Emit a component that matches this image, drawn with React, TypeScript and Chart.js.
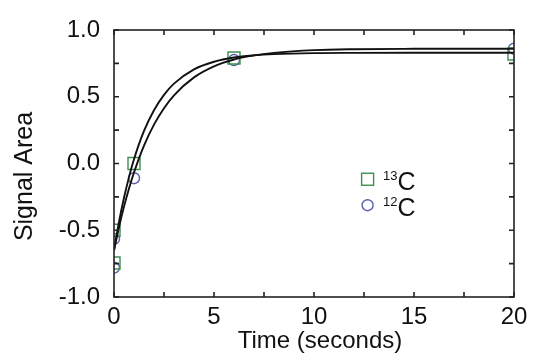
import React, { useEffect, useRef } from "react";
import { Chart, registerables } from "chart.js";

Chart.register(...registerables);

const c13X = [0, 0, 1, 6, 20];
const c13Y = [-0.5, -0.745, 0.0, 0.79, 0.82];
const c12X = [0, 0, 1, 6, 20];
const c12Y = [-0.565, -0.78, -0.11, 0.775, 0.86];

// Fitted curves
const fitX = [0, 0.25, 0.5, 0.75, 1, 1.5, 2, 2.5, 3, 4, 5, 6, 7, 8, 10, 12, 15, 20];
const fit13Y = [-0.65, -0.438, -0.257, -0.102, 0.032, 0.244, 0.399, 0.514, 0.598, 0.705, 0.762, 0.794, 0.81, 0.819, 0.827, 0.829, 0.83, 0.83];
const fit12Y = [-0.65, -0.477, -0.323, -0.187, -0.067, 0.134, 0.291, 0.414, 0.511, 0.645, 0.728, 0.779, 0.81, 0.829, 0.849, 0.856, 0.859, 0.86];

const xTicks = [0, 5, 10, 15, 20];
const xMinorTicks = [0, 2.5, 5, 7.5, 10, 12.5, 15, 17.5, 20];
const yTicks = [-1, -0.5, 0, 0.5, 1];
const yMinorTicks = [-1, -0.75, -0.5, -0.25, 0, 0.25, 0.5, 0.75, 1];

const xTitle = "Time (seconds)";
const yTitle = "Signal Area";

const GREEN = "#3f8f50";
const BLUE = "#5860a8";

const legendItems = [
  { sup: "13", main: "C", color: GREEN, style: "rect", x: 12.68, y: -0.118 },
  { sup: "12", main: "C", color: BLUE, style: "circle", x: 12.68, y: -0.3125 },
];

const FONT = "'Liberation Sans', Arial, Helvetica, sans-serif";

const framePlugin = {
  id: "frame",
  afterDatasetsDraw(chart: any) {
    const { ctx, chartArea, scales } = chart;
    const { left, right, top, bottom } = chartArea;
    const xs = scales.x;
    const ys = scales.y;
    ctx.save();
    ctx.strokeStyle = "#222";
    ctx.lineWidth = 1.6;
    ctx.strokeRect(left, top, right - left, bottom - top);
    const tl = 5;
    ctx.beginPath();
    xMinorTicks.forEach((v) => {
      const px = xs.getPixelForValue(v);
      ctx.moveTo(px, bottom);
      ctx.lineTo(px, bottom - tl);
      ctx.moveTo(px, top);
      ctx.lineTo(px, top + tl);
    });
    yMinorTicks.forEach((v) => {
      const py = ys.getPixelForValue(v);
      ctx.moveTo(left, py);
      ctx.lineTo(left + tl, py);
      ctx.moveTo(right, py);
      ctx.lineTo(right - tl, py);
    });
    ctx.stroke();

    // legend
    legendItems.forEach((it) => {
      const lx = xs.getPixelForValue(it.x);
      const ly = ys.getPixelForValue(it.y);
      ctx.strokeStyle = it.color;
      ctx.lineWidth = 1.4;
      if (it.style === "rect") {
        ctx.strokeRect(lx - 6, ly - 6, 12, 12);
      } else {
        ctx.beginPath();
        ctx.arc(lx, ly, 5.5, 0, Math.PI * 2);
        ctx.stroke();
      }
      ctx.fillStyle = "#111";
      ctx.textBaseline = "alphabetic";
      ctx.textAlign = "left";
      ctx.font = `13px ${FONT}`;
      ctx.fillText(it.sup, lx + 15.5, ly + 0.5);
      const w = ctx.measureText(it.sup).width;
      ctx.font = `25px ${FONT}`;
      ctx.fillText(it.main, lx + 15.5 + w, ly + 10.5);
    });

    ctx.fillStyle = "#111";
    ctx.font = `24px ${FONT}`;
    ctx.textAlign = "center";
    ctx.textBaseline = "alphabetic";
    // x-axis title
    ctx.fillText(xTitle, (left + right) / 2 + 6, 348);

    // y-axis title
    ctx.save();
    ctx.translate(32, (top + bottom) / 2 + 13);
    ctx.rotate(-Math.PI / 2);
    ctx.font = `25px ${FONT}`;
    ctx.fillText(yTitle, 0, 0);
    ctx.restore();

    ctx.restore();
  },
};

export default function App() {
  const ref = useRef<HTMLCanvasElement>(null);
  useEffect(() => {
    if (!ref.current) return;
    const chart = new Chart(ref.current, {
      type: "scatter",
      data: {
        datasets: [
          {
            data: fitX.map((x, i) => ({ x, y: fit13Y[i] })),
            showLine: true,
            borderColor: "#111",
            borderWidth: 1.9,
            pointRadius: 0,
            cubicInterpolationMode: "monotone",
            order: 1,
          },
          {
            data: fitX.map((x, i) => ({ x, y: fit12Y[i] })),
            showLine: true,
            borderColor: "#111",
            borderWidth: 1.9,
            pointRadius: 0,
            cubicInterpolationMode: "monotone",
            order: 1,
          },
          {
            data: c13X.map((x, i) => ({ x, y: c13Y[i] })),
            pointStyle: "rect",
            pointRadius: 8.5,
            borderColor: GREEN,
            backgroundColor: "rgba(0,0,0,0)",
            borderWidth: 1.4,
            order: 2,
          },
          {
            data: c12X.map((x, i) => ({ x, y: c12Y[i] })),
            pointStyle: "circle",
            pointRadius: 5.5,
            borderColor: BLUE,
            backgroundColor: "rgba(0,0,0,0)",
            borderWidth: 1.4,
            order: 2,
          },
        ],
      } as any,
      options: {
        animation: false,
        responsive: false,
        layout: { padding: { left: 0, top: 30, right: 22, bottom: 0 } },
        plugins: { legend: { display: false }, tooltip: { enabled: false } },
        scales: {
          x: {
            type: "linear",
            min: 0,
            max: 20,
            afterBuildTicks: (s: any) => {
              s.ticks = xTicks.map((v) => ({ value: v }));
            },
            afterFit: (s: any) => {
              s.height = 59;
            },
            grid: { display: false, drawTicks: false },
            border: { display: false },
            ticks: {
              color: "#111",
              padding: 6,
              maxRotation: 0,
              font: { family: FONT, size: 24 },
            },
            title: { display: false },
          },
          y: {
            type: "linear",
            min: -1,
            max: 1,
            afterBuildTicks: (s: any) => {
              s.ticks = yTicks.map((v) => ({ value: v }));
            },
            afterFit: (s: any) => {
              s.width = 114;
            },
            grid: { display: false, drawTicks: false },
            border: { display: false },
            ticks: {
              color: "#111",
              padding: 14,
              font: { family: FONT, size: 24 },
              callback: (v: any) => Number(v).toFixed(1),
            },
            title: { display: false },
          },
        },
      } as any,
      plugins: [framePlugin],
    });
    return () => chart.destroy();
  }, []);
  return (
    <div style={{ position: "fixed", left: 0, top: 0, width: 536, height: 356, background: "#fff" }}>
      <canvas ref={ref} width={536} height={356} />
    </div>
  );
}
